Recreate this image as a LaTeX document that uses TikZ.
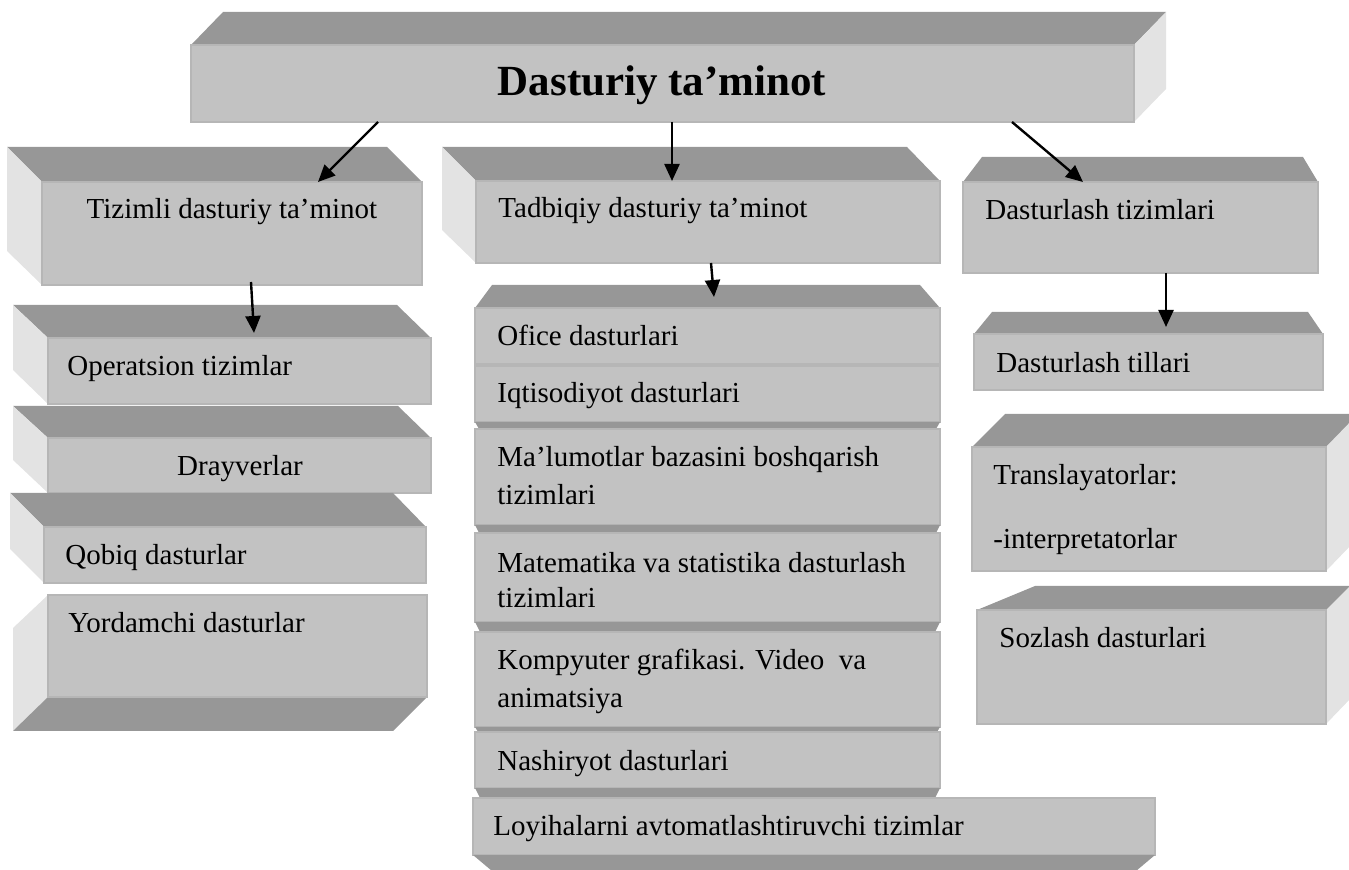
\documentclass[tikz,border=0pt]{standalone}
\usepackage{fontspec}
\setmainfont{Liberation Serif}
\usetikzlibrary{arrows.meta}
\definecolor{frontc}{HTML}{C2C2C2}
\definecolor{topc}{HTML}{979797}
\definecolor{sidec}{HTML}{E3E3E3}
\definecolor{rimc}{HTML}{B6B6B6}
\begin{document}
\begin{tikzpicture}[x=0.5pt,y=-0.5pt,
  front/.style={fill=frontc,draw=rimc,line width=0.6pt},
  topface/.style={fill=topc},
  sideface/.style={fill=sidec},
  lbl/.style={inner sep=0pt,anchor=base west,font=\fontsize{14.5}{17}\selectfont},
  ttl/.style={inner sep=0pt,anchor=base,font=\fontsize{21.5}{25}\selectfont\bfseries},
  arr/.style={line width=1.2pt,-{Triangle[length=8.5pt,width=7.5pt]}}]
\useasboundingbox (0,0) rectangle (1349,870);
\clip (0,0) rectangle (1349,870);

% ---------- top box ----------
\fill[topface] (191,45) -- (223,12) -- (1166,12) -- (1134,45) -- cycle;
\fill[sideface] (1134,45) -- (1166,12) -- (1166,89) -- (1134,122) -- cycle;
\path[front] (191,45) rectangle (1134,122);
\node[ttl] (title) at (662,96) {Dasturiy ta’minot};

% ---------- Tizimli ----------
\fill[topface] (42,182) -- (7,147) -- (387,147) -- (422,182) -- cycle;
\fill[sideface] (42,182) -- (7,147) -- (7,251) -- (42,285) -- cycle;
\path[front] (42,182) rectangle (422,285);
\node[lbl,anchor=base] (tiz) at (232,219) {Tizimli dasturiy ta’minot};

% ---------- Tadbiqiy ----------
\fill[topface] (476,181) -- (442,147) -- (907,147) -- (940,181) -- cycle;
\fill[sideface] (476,181) -- (442,147) -- (442,230) -- (476,263) -- cycle;
\path[front] (476,181) rectangle (940,263);
\node[lbl] (tad) at (498,218) {Tadbiqiy dasturiy ta’minot};

% ---------- Dasturlash tizimlari ----------
\fill[topface] (963,182) -- (982,157) -- (1303,157) -- (1318,182) -- cycle;
\path[front] (963,182) rectangle (1318,273);
\node[lbl] (dtz) at (985,220) {Dasturlash tizimlari};

% ---------- left column ----------
\fill[topface] (48,338) -- (13,305) -- (397,305) -- (431,338) -- cycle;
\fill[sideface] (48,338) -- (13,305) -- (13,370) -- (48,404) -- cycle;
\path[front] (48,338) rectangle (431,404);
\node[lbl] (ops) at (67,376) {Operatsion tizimlar};

\fill[topface] (48,438) -- (13,406) -- (398,406) -- (431,438) -- cycle;
\fill[sideface] (48,438) -- (13,406) -- (13,460) -- (48,493) -- cycle;
\path[front] (48,438) rectangle (431,493);
\node[lbl,anchor=base] (dra) at (240,476) {Drayverlar};

\fill[topface] (44,527) -- (10,493) -- (393,493) -- (426,527) -- cycle;
\fill[sideface] (44,527) -- (10,493) -- (10,549) -- (44,583) -- cycle;
\path[front] (44,527) rectangle (426,583);
\node[lbl] (qob) at (65,565) {Qobiq dasturlar};

\fill[sideface] (48,595) -- (13,628) -- (13,731) -- (48,697) -- cycle;
\fill[topface] (48,697) -- (427,697) -- (393,731) -- (13,731) -- cycle;
\path[front] (48,595) rectangle (427,697);
\node[lbl] (yor) at (68,633) {Yordamchi dasturlar};

% ---------- central column ----------
\fill[topface] (475,308) -- (492,285) -- (920,285) -- (940,308) -- cycle;
\path[front] (475,308) rectangle (940,364);
\node[lbl] (off) at (497,346) {Ofice dasturlari};

\path[front] (475,366) rectangle (940,422);
\fill[topface] (475,422) -- (940,422) -- (936,429) -- (479,429) -- cycle;
\node[lbl] (iqt) at (497,403) {Iqtisodiyot dasturlari};

\path[front] (475,429) rectangle (940,525);
\fill[topface] (475,525) -- (940,525) -- (936,533) -- (479,533) -- cycle;
\node[lbl] (mal1) at (497,467) {Ma’lumotlar bazasini boshqarish};
\node[lbl] (mal2) at (497,505) {tizimlari};

\path[front] (475,533) rectangle (940,622);
\fill[topface] (475,622) -- (940,622) -- (935,632) -- (480,632) -- cycle;
\node[lbl] (mat1) at (497,573) {Matematika va statistika dasturlash};
\node[lbl] (mat2) at (497,608) {tizimlari};

\path[front] (475,632) rectangle (940,727);
\fill[topface] (475,727) -- (940,727) -- (937,732) -- (478,732) -- cycle;
\node[lbl] (kom1) at (497,670) {Kompyuter grafikasi. Video\ \ va};
\node[lbl] (kom2) at (497,708) {animatsiya};

\path[front] (475,732) rectangle (940,788);
\fill[topface] (475,788) -- (940,788) -- (935,798) -- (480,798) -- cycle;
\node[lbl] (nas) at (497,770) {Nashiryot dasturlari};

\path[front] (473,798) rectangle (1155,855);
\fill[topface] (473,855) -- (1155,855) -- (1136,871) -- (492,871) -- cycle;
\node[lbl] (loy) at (493,835) {Loyihalarni avtomatlashtiruvchi tizimlar};

% ---------- right column ----------
\fill[topface] (974,334) -- (992,312) -- (1308,312) -- (1323,334) -- cycle;
\path[front] (974,334) rectangle (1323,390);
\node[lbl] (dtl) at (996,373) {Dasturlash tillari};

\fill[topface] (972,447) -- (1005,414) -- (1360,414) -- (1326,447) -- cycle;
\fill[sideface] (1326,447) -- (1355,417) -- (1355,541) -- (1326,571) -- cycle;
\path[front] (972,447) rectangle (1326,571);
\node[lbl] (tr1) at (993,485) {Translayatorlar:};
\node[lbl] (tr2) at (993,549) {-interpretatorlar};

\fill[topface] (977,610) -- (1035,586) -- (1360,586) -- (1326,610) -- cycle;
\fill[sideface] (1326,610) -- (1352,584) -- (1352,697) -- (1326,724) -- cycle;
\path[front] (977,610) rectangle (1326,724);
\node[lbl] (soz) at (999,648) {Sozlash dasturlari};

% ---------- arrows ----------
\coordinate (a1s) at (378,122); \coordinate (a1e) at (318,182);
\coordinate (a2s) at (672,122); \coordinate (a2e) at (672,181);
\coordinate (a3s) at (1012,122); \coordinate (a3e) at (1083,182);
\coordinate (a4s) at (251,282); \coordinate (a4e) at (254,333);
\coordinate (a5s) at (711,263); \coordinate (a5e) at (714,297);
\coordinate (a6s) at (1166,273); \coordinate (a6e) at (1166,327);
\draw[arr] (a1s) -- (a1e);
\draw[arr] (a2s) -- (a2e);
\draw[arr] (a3s) -- (a3e);
\draw[arr] (a4s) -- (a4e);
\draw[arr] (a5s) -- (a5e);
\draw[arr] (a6s) -- (a6e);
\end{tikzpicture}
\end{document}
